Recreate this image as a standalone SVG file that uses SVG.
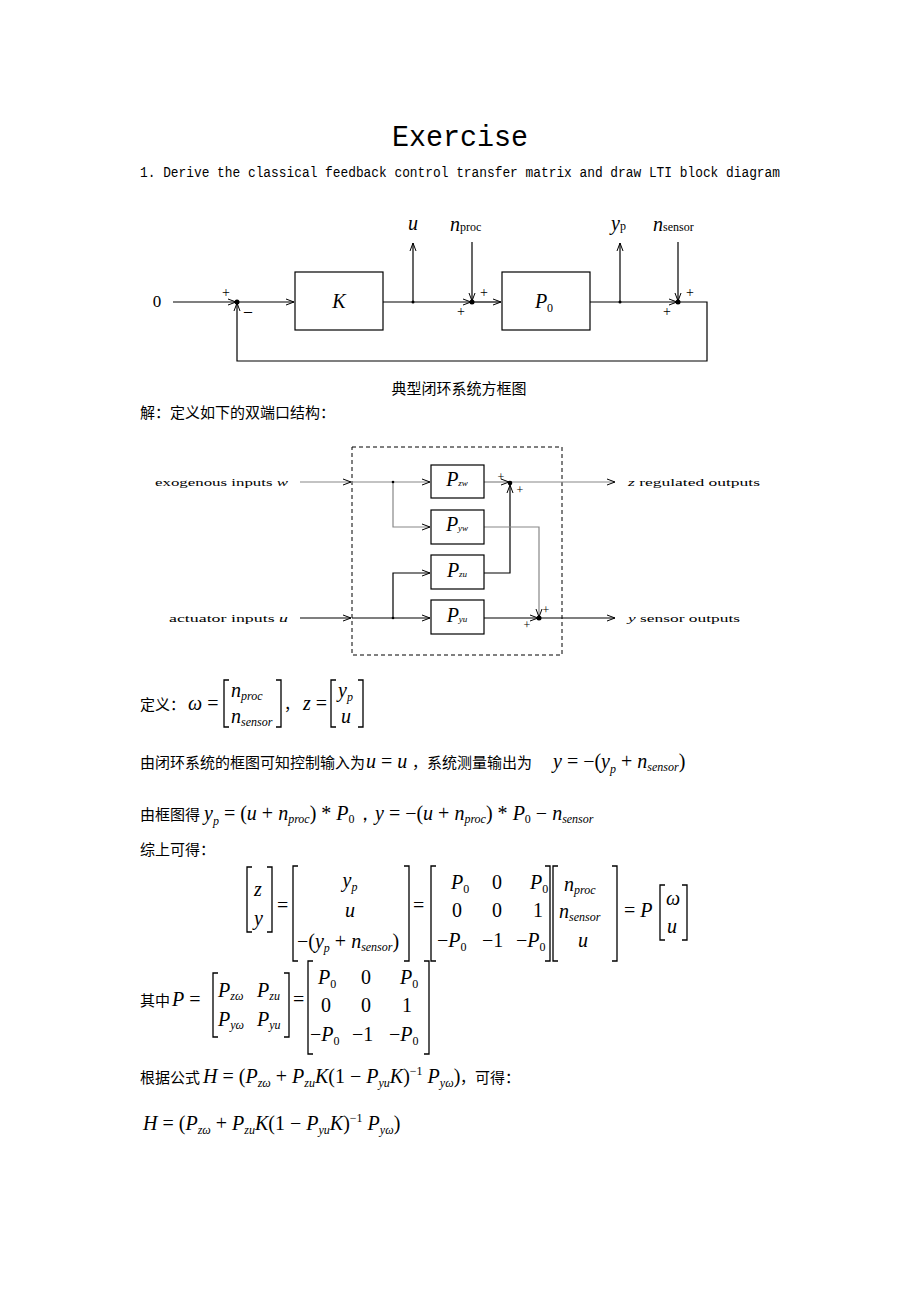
<svg xmlns="http://www.w3.org/2000/svg" width="920" height="1302" viewBox="0 0 920 1302">
<defs>
<marker id="ar" markerWidth="10" markerHeight="8" refX="9" refY="4" orient="auto" markerUnits="userSpaceOnUse"><path d="M1,1 L9,4 L1,7" fill="none" stroke="#000" stroke-width="1"/></marker>
<style>
.ln{stroke:#000;stroke-width:1.2;fill:none}
.gl{stroke:#888;stroke-width:1.2;fill:none}
.bx{fill:#fff;stroke:#000;stroke-width:1.2}
.t{font-family:"Liberation Serif","Noto Sans CJK SC",serif;fill:#000}
.mono{font-family:"Liberation Mono",monospace;fill:#000}
.m{font-family:"Liberation Serif",serif;font-style:italic;fill:#000;font-size:20px}
.r{font-family:"Liberation Serif",serif;font-style:normal}
.s{font-size:12px}
.c{font-family:"Liberation Serif","Noto Sans CJK SC",serif;font-size:15px;fill:#000}
.br{stroke:#000;stroke-width:1.3;fill:none}
</style>
</defs>
<rect width="920" height="1302" fill="#fff"/>
<text class="mono" x="460" y="146" font-size="30" text-anchor="middle" textLength="136" lengthAdjust="spacingAndGlyphs">Exercise</text>
<text class="mono" x="140" y="177" font-size="14" textLength="640" lengthAdjust="spacingAndGlyphs">1. Derive the classical feedback control transfer matrix and draw LTI block diagram</text>

<g id="diagram1">
<g id="connectors1">
<path class="ln" d="M173,302 H236" marker-end="url(#ar)"/>
<path class="ln" d="M237,302 H294" marker-end="url(#ar)"/>
<path class="ln" d="M383,302 H471" marker-end="url(#ar)"/>
<path class="ln" d="M472,302 H501" marker-end="url(#ar)"/>
<path class="ln" d="M590,302 H677" marker-end="url(#ar)"/>
<path class="ln" d="M678,302 H707 V361 H237 V303" marker-end="url(#ar)"/>
<path class="ln" d="M413,302 V243" marker-end="url(#ar)"/>
<path class="ln" d="M620,302 V243" marker-end="url(#ar)"/>
<path class="ln" d="M472,242 V301" marker-end="url(#ar)"/>
<path class="ln" d="M678,242 V301" marker-end="url(#ar)"/>
<circle cx="237" cy="302" r="2.5"/><circle cx="472" cy="302" r="2.5"/><circle cx="678" cy="302" r="2.5"/>
<circle cx="413" cy="302" r="1.5"/><circle cx="620" cy="302" r="1.5"/>
</g>
<g id="K"><rect class="bx" x="295" y="272" width="88" height="58"/><text class="m" x="339" y="308" text-anchor="middle">K</text></g>
<g id="P0"><rect class="bx" x="502" y="272" width="88" height="58"/><text class="m" x="544" y="308" text-anchor="middle">P<tspan class="r s" dy="4">0</tspan></text></g>
<text class="t" x="157" y="307" font-size="17" text-anchor="middle">0</text>
<text class="t" x="226" y="297" font-size="14" text-anchor="middle">+</text>
<text class="t" x="248" y="316" font-size="16" text-anchor="middle">–</text>
<text class="t" x="484" y="297" font-size="14" text-anchor="middle">+</text>
<text class="t" x="461" y="316" font-size="14" text-anchor="middle">+</text>
<text class="t" x="690" y="297" font-size="14" text-anchor="middle">+</text>
<text class="t" x="667" y="316" font-size="14" text-anchor="middle">+</text>
<text class="m" x="413" y="230" text-anchor="middle" font-size="17">u</text>
<text class="m" x="450" y="231" font-size="19">n<tspan class="r s">proc</tspan></text>
<text class="m" x="611" y="230" font-size="17">y<tspan class="r s">p</tspan></text>
<text class="m" x="653" y="231" font-size="19">n<tspan class="r s">sensor</tspan></text>
</g>
<text class="c" x="459" y="394" font-size="13" text-anchor="middle">典型闭环系统方框图</text>
<text class="c" x="140" y="418">解：定义如下的双端口结构：</text>

<g id="diagram2">
<rect x="352" y="447" width="210" height="208" fill="none" stroke="#000" stroke-dasharray="4,3"/>
<g id="connectors2">
<path class="gl" d="M300,482 H351" marker-end="url(#ar)"/>
<path class="gl" d="M352,482 H430" marker-end="url(#ar)"/>
<path class="gl" d="M393,482 V527 H430" marker-end="url(#ar)"/>
<path class="ln" d="M300,618 H351" marker-end="url(#ar)"/>
<path class="ln" d="M352,618 H430" marker-end="url(#ar)"/>
<path class="ln" d="M393,618 V573 H430" marker-end="url(#ar)"/>
<path class="gl" d="M484,482 H509" marker-end="url(#ar)"/>
<path class="ln" d="M484,573 H510 V485" marker-end="url(#ar)"/>
<path class="gl" d="M510,482 H615" marker-end="url(#ar)"/>
<path class="gl" d="M484,527 H539 V617" marker-end="url(#ar)"/>
<path class="ln" d="M484,618 H538" marker-end="url(#ar)"/>
<path class="ln" d="M539,618 H615" marker-end="url(#ar)"/>
<circle cx="510" cy="483" r="2.3"/><circle cx="539" cy="618" r="2.5"/>
<circle cx="393" cy="482" r="1.3"/><circle cx="393" cy="618" r="1.3"/>
</g>
<g id="Pzw"><rect class="bx" x="431" y="465" width="53" height="33"/><text class="m" x="457" y="486" font-size="13" text-anchor="middle">P<tspan font-size="9">zw</tspan></text></g>
<g id="Pyw"><rect class="bx" x="431" y="510" width="53" height="34"/><text class="m" x="457" y="531" font-size="13" text-anchor="middle">P<tspan font-size="9">yw</tspan></text></g>
<g id="Pzu"><rect class="bx" x="431" y="555" width="53" height="34"/><text class="m" x="457" y="577" font-size="13" text-anchor="middle">P<tspan font-size="9">zu</tspan></text></g>
<g id="Pyu"><rect class="bx" x="431" y="600" width="53" height="34"/><text class="m" x="457" y="622" font-size="13" text-anchor="middle">P<tspan font-size="9">yu</tspan></text></g>
<text class="t" x="501" y="481" font-size="12" text-anchor="middle">+</text>
<text class="t" x="520" y="494" font-size="12" text-anchor="middle">+</text>
<text class="t" x="546" y="614" font-size="12" text-anchor="middle">+</text>
<text class="t" x="527" y="629" font-size="12" text-anchor="middle">+</text>
<text class="t" x="155" y="486" font-size="11" textLength="133" lengthAdjust="spacingAndGlyphs">exogenous inputs <tspan font-style="italic">w</tspan></text>
<text class="t" x="169" y="622" font-size="11" textLength="119" lengthAdjust="spacingAndGlyphs">actuator inputs <tspan font-style="italic">u</tspan></text>
<text class="t" x="628" y="486" font-size="11" textLength="132" lengthAdjust="spacingAndGlyphs"><tspan font-style="italic">z</tspan> regulated outputs</text>
<text class="t" x="628" y="622" font-size="11" textLength="112" lengthAdjust="spacingAndGlyphs"><tspan font-style="italic">y</tspan> sensor outputs</text>
</g>

<g id="equations">
<text class="c" x="140" y="710">定义：</text>
<text class="m" x="188" y="710">ω<tspan class="r"> =</tspan></text>
<path class="br" d="M229,680 H224 V727 H229 M276,680 H281 V727 H276"/>
<text class="m" x="231" y="697">n<tspan class="s" dy="3">proc</tspan></text>
<text class="m" x="231" y="723">n<tspan class="s" dy="3">sensor</tspan></text>
<text class="c" x="284" y="710">，</text>
<text class="m" x="303" y="710">z<tspan class="r"> =</tspan></text>
<path class="br" d="M336,680 H331 V727 H336 M358,680 H363 V727 H358"/>
<text class="m" x="338" y="697">y<tspan class="s" dy="4">p</tspan></text>
<text class="m" x="341" y="723">u</text>

<text class="c" x="140" y="768">由闭环系统的框图可知控制输入为</text>
<text class="m" x="366" y="768">u<tspan class="r"> = </tspan>u</text>
<text class="c" x="412" y="768">，系统测量输出为</text>
<text class="m" x="553" y="768">y<tspan class="r"> = −(</tspan>y<tspan class="s" dy="5">p</tspan><tspan class="r" dy="-5"> + </tspan>n<tspan class="s" dy="3">sensor</tspan><tspan class="r" dy="-3">)</tspan></text>

<text class="c" x="140" y="820">由框图得</text>
<text class="m" x="204" y="820">y<tspan class="s" dy="5">p</tspan><tspan class="r" dy="-5"> = (</tspan>u<tspan class="r"> + </tspan>n<tspan class="s" dy="3">proc</tspan><tspan class="r" dy="-3">) * </tspan>P<tspan class="r s" dy="3">0</tspan><tspan class="r" dy="-3">，</tspan></text>
<text class="m" x="375" y="820">y<tspan class="r"> = −(</tspan>u<tspan class="r"> + </tspan>n<tspan class="s" dy="3">proc</tspan><tspan class="r" dy="-3">) * </tspan>P<tspan class="r s" dy="3">0</tspan><tspan class="r" dy="-3"> − </tspan>n<tspan class="s" dy="3">sensor</tspan></text>

<text class="c" x="140" y="855">综上可得：</text>
<path class="br" d="M252,867 H247 V932 H252 M267,867 H272 V932 H267"/>
<text class="m" x="254" y="896">z</text><text class="m" x="254" y="925">y</text>
<text class="m r" x="277" y="912">=</text>
<path class="br" d="M298,866 H293 V961 H298 M404,866 H409 V961 H404"/>
<text class="m" x="350" y="887" text-anchor="middle">y<tspan class="s" dy="4">p</tspan></text>
<text class="m" x="350" y="917" text-anchor="middle">u</text>
<text class="m" x="297" y="948"><tspan class="r">−(</tspan>y<tspan class="s" dy="4">p</tspan><tspan class="r" dy="-4"> + </tspan>n<tspan class="s" dy="3">sensor</tspan><tspan class="r" dy="-3">)</tspan></text>
<text class="m r" x="413" y="912">=</text>
<path class="br" d="M436,866 H431 V961 H436 M545,866 H550 V961 H545"/>
<text class="m" x="451" y="889">P<tspan class="r s" dy="4">0</tspan></text>
<text class="m r" x="492" y="889">0</text>
<text class="m" x="530" y="889">P<tspan class="r s" dy="4">0</tspan></text>
<text class="m r" x="452" y="917">0</text>
<text class="m r" x="492" y="917">0</text>
<text class="m r" x="533" y="917">1</text>
<text class="m" x="437" y="947"><tspan class="r">−</tspan>P<tspan class="r s" dy="4">0</tspan></text>
<text class="m r" x="482" y="947">−1</text>
<text class="m" x="516" y="947"><tspan class="r">−</tspan>P<tspan class="r s" dy="4">0</tspan></text>
<path class="br" d="M558,866 H553 V961 H558 M612,866 H617 V961 H612"/>
<text class="m" x="564" y="891">n<tspan class="s" dy="3">proc</tspan></text>
<text class="m" x="559" y="918">n<tspan class="s" dy="3">sensor</tspan></text>
<text class="m" x="578" y="947">u</text>
<text class="m" x="624" y="917"><tspan class="r">= </tspan>P</text>
<path class="br" d="M665,885 H660 V940 H665 M682,885 H687 V940 H682"/>
<text class="m" x="666" y="905">ω</text><text class="m" x="667" y="933">u</text>

<text class="c" x="140" y="1006">其中</text>
<text class="m" x="172" y="1006">P<tspan class="r"> =</tspan></text>
<path class="br" d="M218,973 H213 V1037 H218 M284,973 H289 V1037 H284"/>
<text class="m" x="218" y="997">P<tspan class="s" dy="3">zω</tspan></text>
<text class="m" x="257" y="997">P<tspan class="s" dy="3">zu</tspan></text>
<text class="m" x="218" y="1026">P<tspan class="s" dy="3">yω</tspan></text>
<text class="m" x="257" y="1026">P<tspan class="s" dy="3">yu</tspan></text>
<text class="m r" x="293" y="1006">=</text>
<path class="br" d="M313,961 H308 V1054 H313 M424,961 H429 V1054 H424"/>
<text class="m" x="318" y="984">P<tspan class="r s" dy="4">0</tspan></text>
<text class="m r" x="361" y="984">0</text>
<text class="m" x="400" y="984">P<tspan class="r s" dy="4">0</tspan></text>
<text class="m r" x="321" y="1012">0</text>
<text class="m r" x="361" y="1012">0</text>
<text class="m r" x="402" y="1012">1</text>
<text class="m" x="310" y="1041"><tspan class="r">−</tspan>P<tspan class="r s" dy="4">0</tspan></text>
<text class="m r" x="352" y="1041">−1</text>
<text class="m" x="389" y="1041"><tspan class="r">−</tspan>P<tspan class="r s" dy="4">0</tspan></text>

<text class="c" x="140" y="1083">根据公式</text>
<text class="m" x="203" y="1083">H<tspan class="r"> = (</tspan>P<tspan class="s" dy="4">zω</tspan><tspan class="r" dy="-4"> + </tspan>P<tspan class="s" dy="4">zu</tspan><tspan dy="-4">K</tspan><tspan class="r">(1 − </tspan>P<tspan class="s" dy="4">yu</tspan><tspan dy="-4">K</tspan><tspan class="r">)</tspan><tspan class="r s" dy="-8">−1</tspan><tspan dy="8"> P</tspan><tspan class="s" dy="4">yω</tspan><tspan class="r" dy="-4">)</tspan></text>
<text class="c" x="460" y="1083">，可得：</text>
<text class="m" x="143" y="1130">H<tspan class="r"> = (</tspan>P<tspan class="s" dy="4">zω</tspan><tspan class="r" dy="-4"> + </tspan>P<tspan class="s" dy="4">zu</tspan><tspan dy="-4">K</tspan><tspan class="r">(1 − </tspan>P<tspan class="s" dy="4">yu</tspan><tspan dy="-4">K</tspan><tspan class="r">)</tspan><tspan class="r s" dy="-8">−1</tspan><tspan dy="8"> P</tspan><tspan class="s" dy="4">yω</tspan><tspan class="r" dy="-4">)</tspan></text>
</g>
</svg>
